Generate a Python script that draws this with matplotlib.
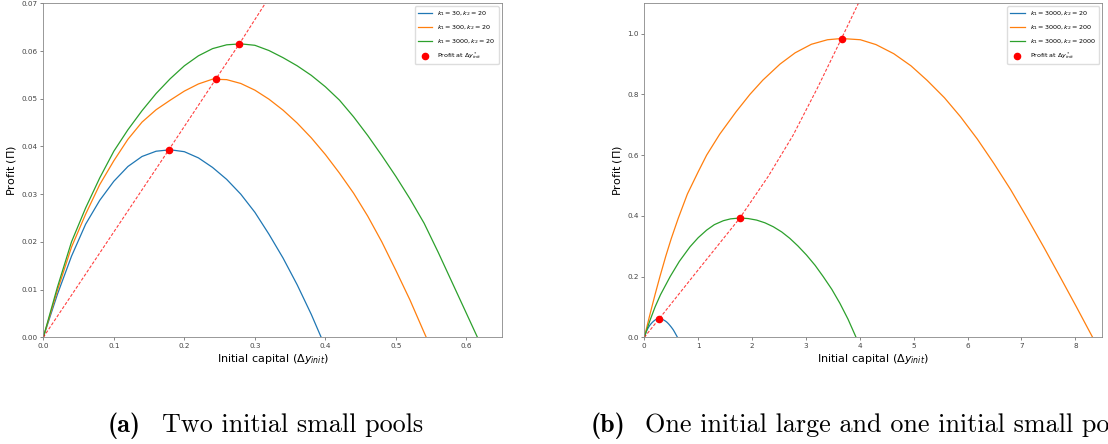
import numpy as np
import matplotlib.pyplot as plt

# (a) two initial small pools
a_x = [0, 0.02, 0.04, 0.06, 0.08, 0.10, 0.12, 0.14, 0.16, 0.18, 0.20, 0.22, 0.24,
       0.26, 0.28, 0.30, 0.32, 0.34, 0.36, 0.38, 0.40, 0.42, 0.44, 0.46, 0.48, 0.50,
       0.52, 0.54, 0.56, 0.58, 0.60]
a_blue_x = a_x[:20] + [0.394]
a_blue_y = [0, 0.0090, 0.0170, 0.0237, 0.0287, 0.0327, 0.0358, 0.0379, 0.0390, 0.0393,
            0.0389, 0.0376, 0.0356, 0.0331, 0.0300, 0.0262, 0.0216, 0.0166, 0.0110,
            0.0048, 0.0]
a_orange_x = a_x[:28] + [0.543]
a_orange_y = [0, 0.0098, 0.0189, 0.0258, 0.0320, 0.0370, 0.0415, 0.0451, 0.0477, 0.0497,
              0.0516, 0.0531, 0.0541, 0.0540, 0.0532, 0.0518, 0.0499, 0.0476, 0.0449,
              0.0418, 0.0383, 0.0344, 0.0302, 0.0254, 0.0200, 0.0140, 0.0078, 0.0010, 0]
a_green_x = a_x + [0.6156]
a_green_y = [0, 0.0105, 0.0200, 0.0271, 0.0334, 0.0390, 0.0435, 0.0475, 0.0511, 0.0542,
             0.0569, 0.0590, 0.0605, 0.0613, 0.0615, 0.0612, 0.0601, 0.0586, 0.0569,
             0.0549, 0.0525, 0.0497, 0.0462, 0.0423, 0.0381, 0.0337, 0.0290, 0.0239,
             0.0178, 0.0114, 0.0050, 0]
a_opt_x = [0.178, 0.245, 0.278]
a_opt_y = [0.0393, 0.0542, 0.0615]
a_line_x = [0, 0.178, 0.245, 0.278, 0.32]
a_line_y = [0, 0.0393, 0.0542, 0.0615, 0.0712]
a_labels = [r'$k_1 = 30, k_2 = 20$', r'$k_1 = 300, k_2 = 20$', r'$k_1 = 3000, k_2 = 20$']

# (b) one initial large and one initial small pool
b_blue_x = a_green_x
b_blue_y = a_green_y
b_orange_x = [0, 0.1, 0.2, 0.29, 0.4, 0.5, 0.63, 0.8, 1.0, 1.157, 1.4, 1.7, 1.96, 2.2,
              2.52, 2.8, 3.1, 3.4, 3.66, 4.01, 4.3, 4.63, 4.95, 5.25, 5.57, 5.87, 6.18,
              6.49, 6.8, 7.10, 7.42, 7.72, 8.02, 8.32]
b_orange_y = [0, 0.072, 0.141, 0.200, 0.268, 0.325, 0.392, 0.472, 0.545, 0.600, 0.669,
              0.742, 0.800, 0.847, 0.900, 0.937, 0.965, 0.980, 0.984, 0.980, 0.964,
              0.934, 0.894, 0.846, 0.789, 0.726, 0.653, 0.572, 0.486, 0.395, 0.295,
              0.198, 0.100, 0]
b_green_x = [0, 0.1, 0.2, 0.3, 0.48, 0.65, 0.848, 1.0, 1.157, 1.3, 1.467, 1.6, 1.776,
             1.93, 2.085, 2.24, 2.395, 2.55, 2.70, 2.85, 3.01, 3.17, 3.32, 3.48, 3.63,
             3.78, 3.93]
b_green_y = [0, 0.053, 0.100, 0.140, 0.200, 0.250, 0.298, 0.328, 0.353, 0.371, 0.384,
             0.390, 0.393, 0.391, 0.386, 0.377, 0.364, 0.347, 0.326, 0.301, 0.271,
             0.237, 0.200, 0.158, 0.112, 0.060, 0]
b_opt_x = [0.278, 1.77, 3.66]
b_opt_y = [0.0615, 0.392, 0.984]
b_line_x = [0, 0.278, 1.0, 1.77, 2.3, 2.76, 3.21, 3.66, 4.0]
b_line_y = [0, 0.0615, 0.222, 0.392, 0.53, 0.665, 0.82, 0.984, 1.11]
b_labels = [r'$k_1 = 3000, k_2 = 20$', r'$k_1 = 3000, k_2 = 200$', r'$k_1 = 3000, k_2 = 2000$']

captions = [('(a)', 'Two initial small pools'),
            ('(b)', 'One initial large and one initial small pools')]

W, H = 1108, 444


def panel(ax, curves, labels, opt_x, opt_y, line_x, line_y, xlim, ylim, yticks, yfmt):
    for (x, y), lab in zip(curves, labels):
        ax.plot(x, y, lw=0.9, label=lab)
    ax.plot(line_x, line_y, color='red', ls=(0, (2.8, 1.6)), lw=0.8, alpha=0.75)
    ax.scatter(opt_x, opt_y, color='red', s=20, zorder=5, label=r'Profit at $\Delta y^*_{init}$')
    ax.set_xlim(*xlim)
    ax.set_ylim(*ylim)
    ax.set_yticks(yticks)
    ax.set_yticklabels([yfmt.format(v) for v in yticks])
    ax.set_xlabel(r'Initial capital ($\Delta y_{init}$)', fontsize=8, labelpad=2.2)
    ax.set_ylabel(r'Profit ($\Pi$)', fontsize=8, labelpad=2.5)
    ax.tick_params(labelsize=5.2, colors='#444444', length=2, width=0.45, pad=1.9)
    for s in ax.spines.values():
        s.set_color('#888888')
        s.set_linewidth(0.6)
    ax.legend(loc='upper right', fontsize=4.6, borderpad=0.5, labelspacing=0.75,
              handlelength=2.2, framealpha=1.0, edgecolor='#dddddd')


fig = plt.figure(figsize=(W / 100, H / 100), dpi=100)
ax1 = fig.add_axes([43.3 / W, 106.7 / H, 458.4 / W, 334 / H])
ax2 = fig.add_axes([644.3 / W, 106.7 / H, 458 / W, 334 / H])

panel(ax1, [(a_blue_x, a_blue_y), (a_orange_x, a_orange_y), (a_green_x, a_green_y)],
      a_labels, a_opt_x, a_opt_y, a_line_x, a_line_y, (0, 0.65), (0, 0.07),
      np.arange(0, 0.071, 0.01), '{:.2f}')
ax1.set_xticks(np.arange(0, 0.61, 0.1))
ax1.set_xticklabels(['{:.1f}'.format(v) for v in np.arange(0, 0.61, 0.1)])

panel(ax2, [(b_blue_x, b_blue_y), (b_orange_x, b_orange_y), (b_green_x, b_green_y)],
      b_labels, b_opt_x, b_opt_y, b_line_x, b_line_y, (0, 8.5), (0, 1.1),
      np.arange(0, 1.01, 0.2), '{:.1f}')
ax2.set_xticks(range(0, 9))

# sub-captions; the (b) one runs past the right edge, as in the source
base = (H - 432.3) / H
for (tag, text), x_tag, x_text in zip(captions, [107.7, 591], [161.7, 645]):
    fig.text(x_tag / W, base, tag, fontsize=18.8, family='cmb10', va='baseline')
    fig.text(x_text / W, base, text, fontsize=18.8, family='cmr10', va='baseline')

fig.savefig('out.png', dpi=100)
